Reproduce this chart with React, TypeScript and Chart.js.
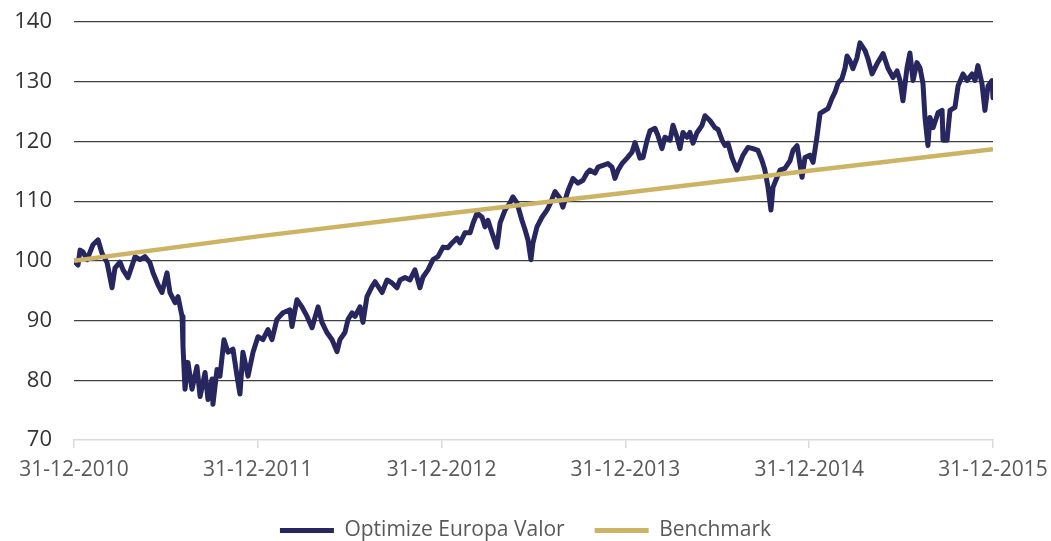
import React, { useEffect, useRef } from "react";
import { Chart, registerables } from "chart.js";

Chart.register(...registerables);

// x positions are years since 31-12-2010
const tickLabels = ["31-12-2010", "31-12-2011", "31-12-2012", "31-12-2013", "31-12-2014", "31-12-2015"];
const tickPositions = [0, 1, 2, 3, 4, 5];

const fundX = [
  0, 0.022, 0.033, 0.049, 0.071, 0.103, 0.131, 0.152, 0.180, 0.207,
  0.223, 0.250, 0.267, 0.294, 0.332, 0.359, 0.386, 0.413, 0.430, 0.457,
  0.479, 0.506, 0.522, 0.550, 0.566, 0.588, 0.593, 0.604, 0.620, 0.642,
  0.669, 0.686, 0.713, 0.729, 0.751, 0.756, 0.778, 0.794, 0.816, 0.838,
  0.865, 0.887, 0.903, 0.919, 0.947, 0.974, 1.001, 1.028, 1.055, 1.077,
  1.104, 1.137, 1.175, 1.186, 1.213, 1.240, 1.268, 1.295, 1.328, 1.349,
  1.376, 1.404, 1.431, 1.447, 1.474, 1.491, 1.513, 1.529, 1.556, 1.572,
  1.594, 1.621, 1.638, 1.676, 1.703, 1.730, 1.757, 1.774, 1.801, 1.828,
  1.855, 1.882, 1.899, 1.926, 1.953, 1.980, 2.008, 2.035, 2.057, 2.084,
  2.100, 2.127, 2.155, 2.171, 2.193, 2.220, 2.236, 2.252, 2.274, 2.301,
  2.318, 2.345, 2.372, 2.388, 2.410, 2.437, 2.454, 2.470, 2.486, 2.497,
  2.519, 2.546, 2.573, 2.590, 2.617, 2.644, 2.660, 2.688, 2.715, 2.742,
  2.769, 2.791, 2.807, 2.835, 2.851, 2.878, 2.905, 2.927, 2.943, 2.960,
  2.982, 3.009, 3.036, 3.052, 3.063, 3.079, 3.096, 3.118, 3.134, 3.161,
  3.177, 3.199, 3.215, 3.243, 3.259, 3.281, 3.297, 3.313, 3.335, 3.351,
  3.368, 3.390, 3.417, 3.433, 3.460, 3.487, 3.504, 3.526, 3.542, 3.558,
  3.580, 3.607, 3.624, 3.640, 3.667, 3.694, 3.721, 3.743, 3.759, 3.776,
  3.792, 3.803, 3.825, 3.841, 3.868, 3.896, 3.912, 3.934, 3.961, 3.977,
  4.004, 4.021, 4.042, 4.059, 4.086, 4.102, 4.124, 4.140, 4.157, 4.178,
  4.195, 4.206, 4.222, 4.238, 4.260, 4.276, 4.304, 4.320, 4.342, 4.369,
  4.402, 4.429, 4.456, 4.478, 4.494, 4.510, 4.532, 4.548, 4.565, 4.586,
  4.603, 4.619, 4.630, 4.646, 4.657, 4.674, 4.701, 4.723, 4.728, 4.750,
  4.766, 4.793, 4.810, 4.837, 4.859, 4.886, 4.902, 4.918, 4.940, 4.956,
  4.973, 4.995, 5.000,
];

const fundValues = [
  100.0, 99.3, 101.8, 101.5, 100.2, 102.7, 103.5, 101.3, 99.7, 95.5,
  98.8, 99.8, 98.5, 97.2, 100.7, 100.2, 100.7, 99.7, 98.0, 96.0,
  94.7, 98.0, 94.7, 93.0, 94.0, 90.7, 85.7, 78.5, 83.0, 78.5,
  82.3, 77.3, 81.3, 76.8, 80.2, 76.0, 81.8, 80.7, 86.8, 84.7,
  85.2, 80.7, 77.7, 84.7, 80.7, 84.7, 87.3, 86.8, 88.5, 86.8,
  90.2, 91.3, 91.8, 89.0, 93.5, 92.3, 90.7, 88.8, 92.3, 89.7,
  88.0, 86.8, 84.8, 86.8, 88.0, 90.2, 91.3, 90.7, 92.3, 89.7,
  94.0, 95.7, 96.5, 94.7, 96.8, 96.3, 95.5, 96.8, 97.2, 96.8,
  98.5, 95.5, 97.3, 98.5, 100.2, 100.7, 102.3, 102.2, 103.0, 103.8,
  103.0, 104.7, 104.7, 106.3, 108.0, 107.3, 105.7, 106.8, 104.7, 102.3,
  106.3, 108.5, 109.7, 110.7, 109.7, 106.8, 105.2, 103.5, 100.2, 103.0,
  105.7, 107.3, 108.5, 109.5, 111.6, 110.5, 109.0, 111.8, 113.8, 113.0,
  113.5, 114.7, 115.2, 114.7, 115.7, 116.0, 116.3, 115.7, 113.8, 115.2,
  116.3, 117.2, 118.2, 119.8, 118.8, 117.2, 117.3, 120.2, 121.8, 122.2,
  121.0, 118.8, 120.7, 120.2, 122.7, 120.7, 118.8, 121.5, 120.7, 121.5,
  119.7, 121.5, 122.7, 124.3, 123.5, 122.3, 122.0, 120.2, 119.3, 119.7,
  117.3, 115.2, 116.5, 117.7, 119.0, 118.8, 118.5, 116.8, 115.2, 112.3,
  108.5, 112.3, 114.0, 115.2, 115.5, 116.8, 118.5, 119.3, 114.0, 117.3,
  117.7, 116.5, 120.7, 124.7, 125.2, 125.5, 127.2, 128.2, 129.8, 130.5,
  132.3, 134.3, 133.5, 132.2, 134.0, 136.5, 135.2, 133.8, 131.3, 133.0,
  134.7, 132.2, 130.7, 131.8, 130.2, 126.8, 132.3, 134.8, 130.2, 133.2,
  132.3, 129.7, 124.0, 119.3, 124.0, 122.3, 124.8, 125.2, 120.2, 120.2,
  125.2, 125.7, 129.3, 131.3, 130.2, 131.3, 130.2, 132.7, 129.7, 125.2,
  129.3, 130.2, 127.3,
];

const benchX = [0, 1, 2, 3, 4, 5];
const benchValues = [100, 104.1, 107.8, 111.4, 115.1, 118.7];

const yTicks = [70, 80, 90, 100, 110, 120, 130, 140];

const NAVY = "#27265F";
const GOLD = "#CDB464";
const FONT = "'Open Sans', sans-serif";

export default function App() {
  const ref = useRef<HTMLCanvasElement | null>(null);

  useEffect(() => {
    document.body.style.margin = "0";
    if (!ref.current) return;
    const fundPts = fundX.map((x, i) => ({ x, y: fundValues[i] }));
    const benchPts = benchX.map((x, i) => ({ x, y: benchValues[i] }));
    const chart = new Chart(ref.current, {
      type: "line",
      data: {
        datasets: [
          {
            label: "Optimize Europa Valor",
            data: fundPts,
            borderColor: NAVY,
            backgroundColor: NAVY,
            borderWidth: 5,
            pointRadius: 0,
            tension: 0,
            borderJoinStyle: "round",
            borderCapStyle: "round",
            order: 1,
          },
          {
            label: "Benchmark",
            data: benchPts,
            borderColor: GOLD,
            backgroundColor: GOLD,
            borderWidth: 4.5,
            pointRadius: 0,
            tension: 0,
            order: 0,
          },
        ],
      },
      options: {
        animation: false,
        responsive: true,
        maintainAspectRatio: false,
        layout: { padding: { top: 22, right: 0, bottom: -10, left: 0 } },
        plugins: {
          tooltip: { enabled: false },
          legend: {
            position: "bottom",
            labels: {
              boxWidth: 54,
              boxHeight: 5,
              padding: 30,
              color: "#595959",
              font: { family: FONT, size: 21 },
              sort: (a: any, b: any) => a.datasetIndex - b.datasetIndex,
              generateLabels: (c: any) =>
                Chart.defaults.plugins.legend.labels.generateLabels(c).map((l: any) => ({
                  ...l,
                  lineWidth: 0,
                  strokeStyle: "rgba(0,0,0,0)",
                })),
            },
          },
        },
        scales: {
          x: {
            type: "linear",
            min: 0,
            max: 5,
            afterBuildTicks: (axis: any) => {
              axis.ticks = tickPositions.map((v) => ({ value: v }));
            },
            afterFit: (axis: any) => {
              axis.paddingLeft = 0;
              axis.paddingRight = 58;
              axis.height = 50;
            },
            ticks: {
              color: "#595959",
              font: { family: FONT, size: 21 },
              maxRotation: 0,
              autoSkip: false,
              padding: 9,
              callback: (v: any) => tickLabels[Math.round(Number(v))] ?? "",
            },
            grid: {
              drawOnChartArea: false,
              drawTicks: true,
              tickLength: 8,
              color: "#D9D9D9",
              lineWidth: 1.5,
            },
            border: { display: true, color: "#D9D9D9", width: 1.5 },
          },
          y: {
            min: 70,
            max: 140,
            afterBuildTicks: (axis: any) => {
              axis.ticks = yTicks.map((v) => ({ value: v }));
            },
            afterFit: (axis: any) => {
              axis.width = 74;
              axis.paddingTop = 0;
              axis.paddingBottom = 0;
            },
            ticks: {
              color: "#333333",
              font: { family: FONT, size: 22 },
              padding: 22,
            },
            grid: {
              drawTicks: false,
              color: (ctx: any) => (ctx.tick && ctx.tick.value === 70 ? "rgba(0,0,0,0)" : "#404040"),
              lineWidth: 1.2,
            },
            border: { display: false },
          },
        },
      },
    });
    return () => chart.destroy();
  }, []);

  return (
    <div style={{ position: "absolute", left: 0, top: 0, width: 1051, height: 541 }}>
      <canvas ref={ref} />
    </div>
  );
}
